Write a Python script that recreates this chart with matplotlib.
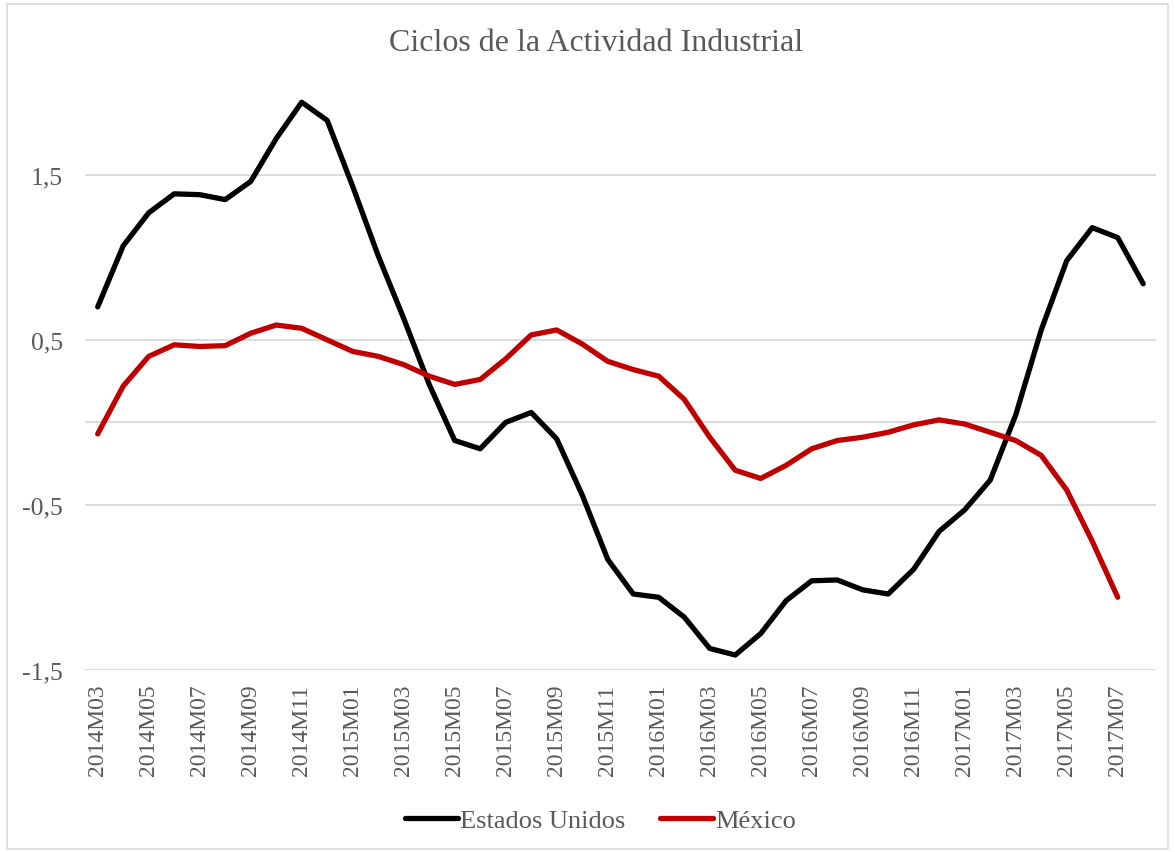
import matplotlib.pyplot as plt
from matplotlib.patches import Rectangle

months = [f"{y}M{m:02d}" for y, m in
          [(2014, m) for m in range(3, 13)] + [(2015, m) for m in range(1, 13)] +
          [(2016, m) for m in range(1, 13)] + [(2017, m) for m in range(1, 9)]]

estados_unidos = [0.70, 1.07, 1.27, 1.385, 1.38, 1.35, 1.46, 1.72, 1.94, 1.83,
                  1.43, 1.01, 0.63, 0.23, -0.11, -0.16, 0.00, 0.06, -0.10, -0.44,
                  -0.83, -1.04, -1.06, -1.18, -1.37, -1.41, -1.28, -1.08, -0.96, -0.955,
                  -1.015, -1.04, -0.89, -0.66, -0.53, -0.35, 0.045, 0.56, 0.98, 1.18,
                  1.12, 0.84]
mexico = [-0.07, 0.22, 0.40, 0.47, 0.46, 0.465, 0.54, 0.59, 0.57, 0.50,
          0.43, 0.40, 0.35, 0.28, 0.23, 0.26, 0.385, 0.53, 0.56, 0.475,
          0.37, 0.32, 0.28, 0.14, -0.09, -0.29, -0.34, -0.26, -0.16, -0.11,
          -0.09, -0.06, -0.015, 0.015, -0.01, -0.06, -0.11, -0.20, -0.41, -0.72,
          -1.06]

yticks = [-1.5, -0.5, 0.5, 1.5]
ytick_labels = ["-1,5", "-0,5", "0,5", "1,5"]

plt.rcParams['font.family'] = ['Liberation Serif', 'DejaVu Serif']
gray = '#595959'
grid = '#D9D9D9'

fig = plt.figure(figsize=(11.75, 8.53), dpi=100)
fig.patches.append(Rectangle((0.006, 0.004), 0.988, 0.99, transform=fig.transFigure,
                             fill=False, edgecolor=grid, linewidth=1.2))
ax = fig.add_axes([0.0723, 0.2135, 0.9115, 0.6964])

ax.plot(range(len(estados_unidos)), estados_unidos, color='black', lw=3.8,
        solid_capstyle='round', solid_joinstyle='round', label='Estados Unidos', zorder=3)
ax.plot(range(len(mexico)), mexico, color='#C00000', lw=3.8,
        solid_capstyle='round', solid_joinstyle='round', label='México', zorder=3)

ax.set_xlim(-0.5, len(months) - 0.5)
ax.set_ylim(-1.5, 2.1)
ax.set_yticks(yticks)
ax.set_yticklabels(ytick_labels)
for y in yticks:
    ax.axhline(y, color=grid, lw=1.3, zorder=1)
ax.axhline(0, color=grid, lw=1.3, zorder=1)

ax.set_xticks(range(0, len(months), 2))
ax.set_xticklabels(months[::2], rotation=90)
ax.tick_params(axis='both', length=0, colors=gray, labelsize=17)
ax.tick_params(axis='y', pad=16, labelsize=18.5)
ax.tick_params(axis='x', pad=10)
for s in ax.spines.values():
    s.set_visible(False)

fig.text(0.507, 0.949, 'Ciclos de la Actividad Industrial', ha='center', va='center',
         fontsize=23, color=gray)
fig.legend(loc='center', bbox_to_anchor=(0.511, 0.037), ncol=2, frameon=False,
           fontsize=19, labelcolor=gray, handlelength=2.0, handletextpad=0.1,
           columnspacing=1.3)

fig.savefig('out.png', dpi=100)
